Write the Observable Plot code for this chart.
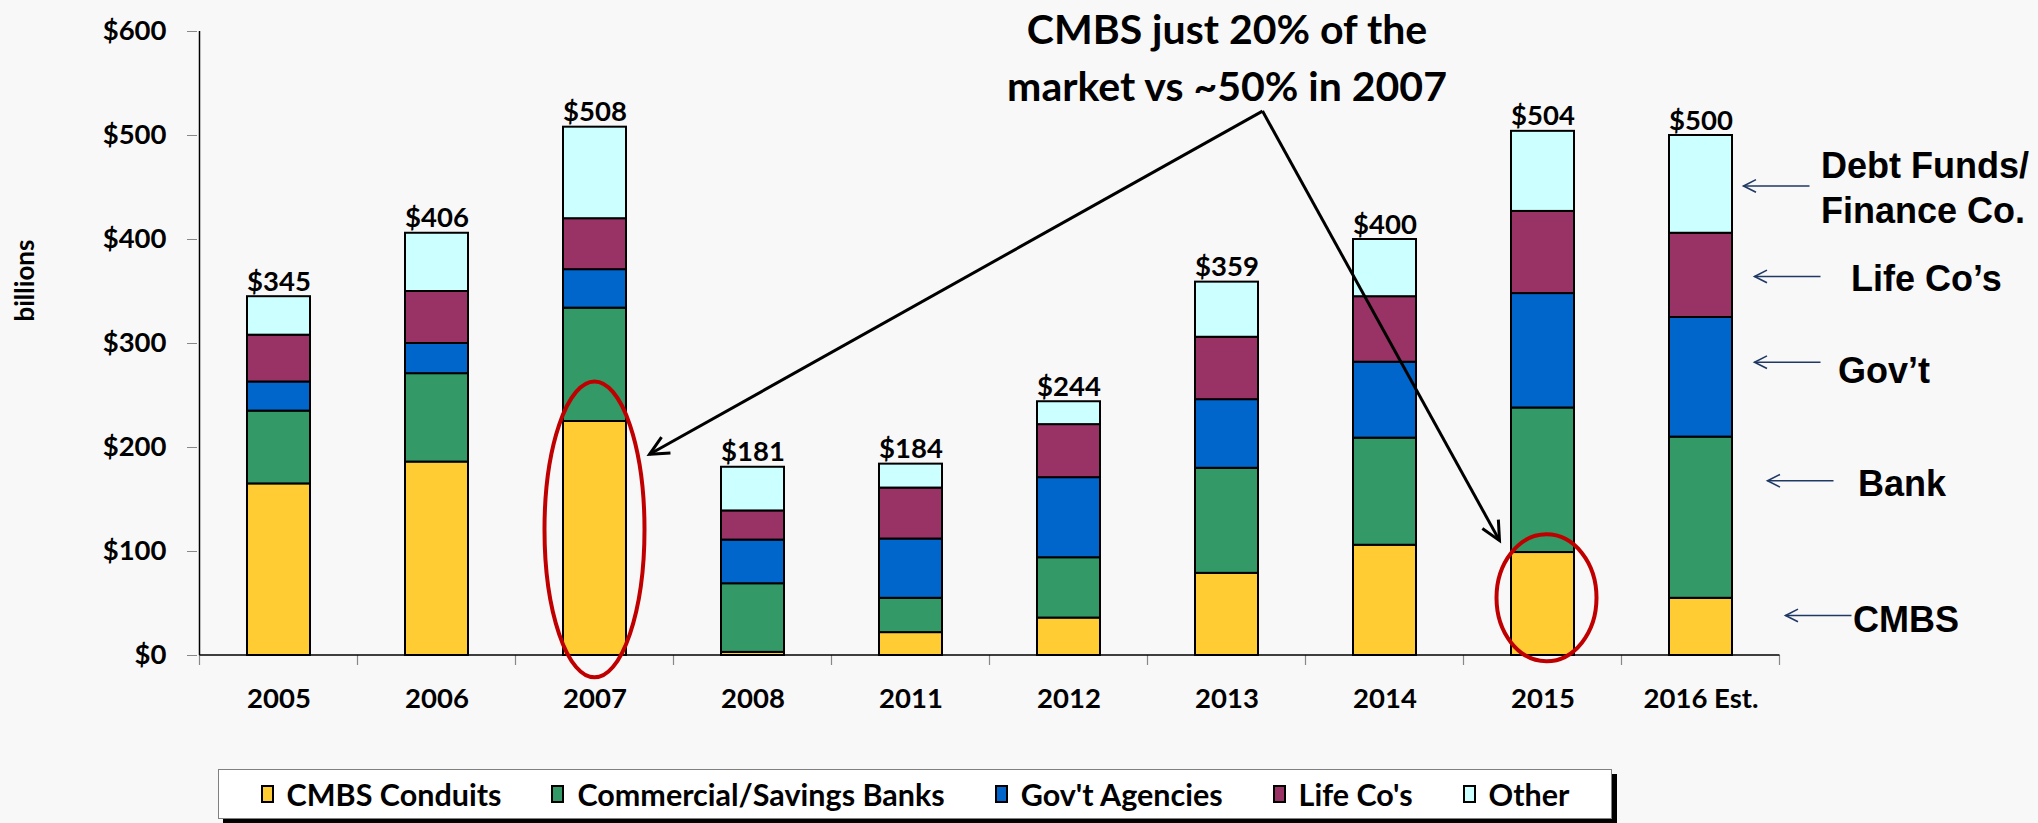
<!DOCTYPE html>
<html>
<head>
<meta charset="utf-8">
<script src="https://cdn.jsdelivr.net/npm/d3@7"></script>
<script src="https://cdn.jsdelivr.net/npm/@observablehq/plot@0.6"></script>
<style>
html, body { margin: 0; padding: 0; background: #f8f8f8; }
#wrap { position: relative; width: 2038px; height: 823px; overflow: hidden; background: #f8f8f8; }
#legend { position: absolute; left: 218px; top: 769px; width: 1394px; height: 50px; box-sizing: border-box;
  background: #fff; border: 1.5px solid #808080; box-shadow: 5px 5px 0 #000;
  display: flex; align-items: center; justify-content: center; gap: 50px;
  font-family: Lato, sans-serif; font-weight: 700; font-size: 30.5px; color: #000; }
#legend .item { display: flex; align-items: center; white-space: nowrap; }
#legend .sw { width: 13px; height: 18px; box-sizing: border-box; border: 2px solid #000; margin-right: 13px; }
</style>
</head>
<body>
<div id="wrap"><div id="chart"></div><div id="legend"></div></div>
<script>
// ---- data ----
const years = ["2005", "2006", "2007", "2008", "2011", "2012", "2013", "2014", "2015", "2016 Est."];
const seriesNames = ["CMBS Conduits", "Commercial/Savings Banks", "Gov't Agencies", "Life Co's", "Other"];
const seriesColors = ["#FFCC33", "#339966", "#0066CC", "#993366", "#CCFFFF"];
const cmbsConduits = [165, 186, 225, 3, 22, 36, 79, 106, 99, 55];
const commercialBanks = [70, 85, 109, 66, 33, 58, 101, 103, 139, 155];
const govAgencies = [28, 29, 37, 42, 57, 77, 66, 73, 110, 115];
const lifeCos = [45, 50, 49, 28, 49, 51, 60, 63, 79, 81];
const other = [37, 56, 88, 42, 23, 22, 53, 55, 77, 94];
const totalLabels = [345, 406, 508, 181, 184, 244, 359, 400, 504, 500];
const yTicks = [0, 100, 200, 300, 400, 500, 600];

// ---- annotations ----
const headline = "CMBS just 20% of the\nmarket vs ~50% in 2007";
const headlineAt = "2013";
const bigArrowFrom = {year: "2013", dx: 36, value: 523};
const bigArrowTo = [{year: "2007", dx: 55, value: 193}, {year: "2015", dx: -43, value: 110}];
const circled = [{year: "2007", dx: 0, lo: -21.5, hi: 263, rx: 50}, {year: "2015", dx: 4, lo: -6, hi: 116, rx: 50}];
const sideNotes = [
  {text: "Debt Funds/\nFinance Co.", value: 451, textDx: 120, arrowValue: 451, from: 109, to: 43},
  {text: "Life Co\u2019s", value: 364, textDx: 150, arrowValue: 364, from: 120, to: 54},
  {text: "Gov\u2019t", value: 276, textDx: 137, arrowValue: 281.5, from: 120, to: 54},
  {text: "Bank", value: 167, textDx: 157, arrowValue: 167.5, from: 133, to: 67},
  {text: "CMBS", value: 36, textDx: 152, arrowValue: 38, from: 151, to: 85}
];

const seriesValues = [cmbsConduits, commercialBanks, govAgencies, lifeCos, other];
const rows = years.flatMap((yr, i) => seriesNames.map((s, j) => ({year: yr, series: s, value: seriesValues[j][i]})));
const totals = years.map((yr, i) => ({year: yr, total: totalLabels[i]}));

function head(g, x1, y1, x2, y2, len, ang, color, w) {
  const a = Math.atan2(y2 - y1, x2 - x1);
  const p1 = [x2 - len * Math.cos(a - ang), y2 - len * Math.sin(a - ang)];
  const p2 = [x2 - len * Math.cos(a + ang), y2 - len * Math.sin(a + ang)];
  g.append("path").attr("d", `M${p1}L${x2},${y2}L${p2}`).attr("fill", "none")
    .attr("stroke", color).attr("stroke-width", w).attr("stroke-linejoin", "miter");
}

function overlay(index, scales, values, dims) {
  const {width, height, marginLeft: ml, marginRight: mr, marginTop: mt, marginBottom: mb} = dims;
  const n = years.length;
  const xs = scales && scales.x;
  const step = xs && xs.step ? xs.step() : (width - ml - mr) / n;
  const bw = xs && xs.bandwidth ? xs.bandwidth() : 0;
  const cx = typeof xs === "function" ? (yr => xs(yr) + bw / 2) : (yr => ml + step * (years.indexOf(yr) + 0.5));
  const ys = scales && typeof scales.y === "function" ? scales.y : (v => height - mb - v / 600 * (height - mt - mb));
  const g = d3.create("svg:g");
  const x0 = cx(years[0]) - step / 2;
  // boundary ticks
  for (let i = 0; i <= n; i++) {
    g.append("line").attr("x1", x0 + step * i).attr("x2", x0 + step * i)
      .attr("y1", ys(0)).attr("y2", ys(0) + 10).attr("stroke", "#888").attr("stroke-width", 1.2);
  }
  // axis lines
  g.append("line").attr("x1", x0).attr("x2", x0).attr("y1", ys(600)).attr("y2", ys(0))
    .attr("stroke", "#000").attr("stroke-width", 1.5);
  g.append("line").attr("x1", x0).attr("x2", x0 + step * n).attr("y1", ys(0)).attr("y2", ys(0))
    .attr("stroke", "#000").attr("stroke-width", 1.5);
  // ellipses
  for (const c of circled) {
    g.append("ellipse").attr("cx", cx(c.year) + c.dx).attr("cy", (ys(c.lo) + ys(c.hi)) / 2)
      .attr("rx", c.rx).attr("ry", (ys(c.lo) - ys(c.hi)) / 2)
      .attr("fill", "none").attr("stroke", "#C00000").attr("stroke-width", 4);
  }
  // big arrows
  const sx = cx(bigArrowFrom.year) + bigArrowFrom.dx, sy = ys(bigArrowFrom.value);
  for (const t of bigArrowTo) {
    const tx = cx(t.year) + t.dx, ty = ys(t.value);
    g.append("line").attr("x1", sx).attr("y1", sy).attr("x2", tx).attr("y2", ty)
      .attr("stroke", "#000").attr("stroke-width", 3);
    head(g, sx, sy, tx, ty, 21, 0.45, "#000", 3);
  }
  // side arrows
  const last = years[years.length - 1];
  for (const s of sideNotes) {
    const yv = ys(s.arrowValue);
    const xa = cx(last) + s.from, xb = cx(last) + s.to;
    g.append("line").attr("x1", xa).attr("y1", yv).attr("x2", xb).attr("y2", yv)
      .attr("stroke", "#1F3864").attr("stroke-width", 1.6);
    head(g, xa, yv, xb, yv, 14, 0.47, "#1F3864", 1.6);
  }
  return g.node();
}

const chart = Plot.plot({
  width: 2038,
  height: 760,
  marginLeft: 197,
  marginRight: 256,
  marginTop: 31,
  marginBottom: 105,
  style: {background: "#f8f8f8", fontFamily: "Lato, sans-serif", fontSize: "27.5px", fontWeight: "700", color: "#000", overflow: "visible"},
  x: {domain: years, paddingInner: 0.6, paddingOuter: 0.3, label: null},
  y: {domain: [0, 600], label: null},
  color: {domain: seriesNames, range: seriesColors},
  marks: [
    Plot.axisY({ticks: yTicks, tickFormat: d => "$" + d, tickSize: 10, tickPadding: 21, stroke: "#888", fill: "#000", fontWeight: 700, label: null}),
    Plot.axisX({tickSize: 0, tickPadding: 33, fill: "#000", fontWeight: 700, label: null}),
    Plot.barY(rows, {x: "year", y: "value", fill: "series", order: seriesNames, stroke: "#000", strokeWidth: 2}),
    Plot.text(totals, {x: "year", y: "total", text: d => "$" + d.total, lineAnchor: "bottom", dy: -6, fill: "#000", fontWeight: 700, fontSize: 27.5}),
    Plot.text(["billions"], {text: d => d, frameAnchor: "left", rotate: -90, dx: -172, dy: -22, fontSize: 26, fontWeight: 700, fill: "#000"}),
    Plot.text([headline], {x: () => headlineAt, text: d => d, frameAnchor: "top", lineAnchor: "top", lineHeight: 1.39, dy: -28, fontSize: 41, fontWeight: 700, fill: "#000"}),
    ...sideNotes.map(s => Plot.text([s], {x: () => years[years.length - 1], y: "value", text: "text", dx: s.textDx,
      textAnchor: "start", lineAnchor: "middle", lineHeight: 1.25, fontFamily: "Liberation Sans, Arial, sans-serif", fontSize: 36, fontWeight: 700, fill: "#000"})),
    overlay
  ]
});
document.getElementById("chart").appendChild(chart);

// legend
const legend = d3.select("#legend");
seriesNames.forEach((s, i) => {
  const it = legend.append("div").attr("class", "item");
  it.append("div").attr("class", "sw").style("background", seriesColors[i]);
  it.append("span").text(s);
});
</script>
</body>
</html>
